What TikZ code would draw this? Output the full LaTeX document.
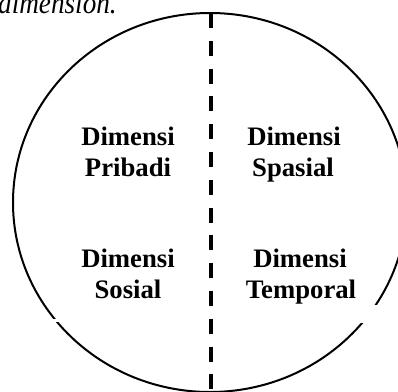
\documentclass[tikz,border=0pt]{standalone}
\usepackage{fontspec}
\setmainfont{Liberation Serif}
\begin{document}
\begin{tikzpicture}[x=1bp,y=-1bp,
  lbl/.style={anchor=base,inner sep=0pt,font=\fontsize{26.8}{31}\selectfont\bfseries},
  outline/.style={line width=2bp,draw=black},
  divider/.style={line width=4bp,draw=black,dash pattern=on 15bp off 12.8bp}]
\useasboundingbox (0,0) rectangle (398,392);
\clip (0,0) rectangle (398,392);
% caption fragment cut by the top border
\node[anchor=base west,inner sep=0pt,font=\fontsize{31}{36}\selectfont\itshape] (cap) at (-2,13.5) {\scalebox{0.88}[1]{dimension.}};
% outer ellipse
\draw[outline] (210,202.5) ellipse [x radius=197bp, y radius=189.5bp];
% small breaks in the outline
\fill[white] (355,305) rectangle (399,322.5);
\fill[white] (42,318.6) rectangle (62,321.6);
% dashed divider
\coordinate (top) at (211,13);
\coordinate (bot) at (211,396);
\draw[divider] (top) -- (bot);
% labels
\node[lbl] (pa) at (128,145) {Dimensi};
\node[lbl] (pb) at (128,176) {Pribadi};
\node[lbl] (sa) at (294,145) {Dimensi};
\node[lbl] (sb) at (293,176) {Spasial};
\node[lbl] (oa) at (128,267) {Dimensi};
\node[lbl] (ob) at (128,298) {Sosial};
\node[lbl] (ta) at (300,267) {Dimensi};
\node[lbl] (tb) at (301,298) {Temporal};
\end{tikzpicture}
\end{document}
